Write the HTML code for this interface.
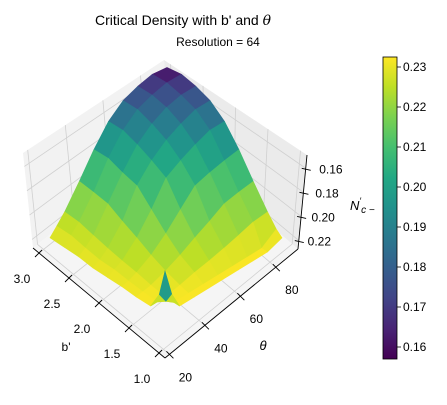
<!DOCTYPE html>
<html><head><meta charset="utf-8"><style>
body{margin:0;background:#fff;}
svg text{font-family:"Liberation Sans",sans-serif;fill:#000;}
</style></head><body>
<svg id="chart" width="447" height="400" viewBox="0 0 447 400">
<defs>
<linearGradient id="vir" x1="0" y1="1" x2="0" y2="0">
<stop offset="0" stop-color="#440154"/><stop offset="0.1" stop-color="#482475"/><stop offset="0.2" stop-color="#414487"/><stop offset="0.3" stop-color="#355f8d"/><stop offset="0.4" stop-color="#2a788e"/><stop offset="0.5" stop-color="#21918c"/><stop offset="0.6" stop-color="#22a884"/><stop offset="0.7" stop-color="#44bf70"/><stop offset="0.8" stop-color="#7ad151"/><stop offset="0.9" stop-color="#bddf26"/><stop offset="1" stop-color="#fde725"/>
</linearGradient>
</defs>
<text x="183" y="25" font-size="14" text-anchor="middle">Critical Density with b' and <tspan font-style="italic" font-family="DejaVu Serif">θ</tspan></text>
<text x="218" y="46" font-size="12" text-anchor="middle">Resolution = 64</text>
<g id="panes"></g>
<g id="surf"></g>
<g id="axes"></g>
<rect x="383" y="57" width="14" height="302" fill="url(#vir)" stroke="#000" stroke-width="0.8"/>
<g id="cbar"></g>
<text x="350" y="210" font-size="13" font-style="italic">N<tspan font-size="9" dy="-6">′</tspan><tspan font-size="10" dy="9">c −</tspan></text>
<text x="66" y="351" font-size="12" text-anchor="middle">b'</text>
<text x="263" y="350" font-size="13" font-style="italic" text-anchor="middle" font-family="DejaVu Serif">θ</text>
</svg>
<script>
const bVals=[1,1.1,1.25,1.5,1.75,2,2.25,2.5,2.75,3];
const thetaVals=[20,24,28.75,37.5,46.25,55,63.75,72.5,81.25,90];
// zGrid[j][i]: j indexes b, i indexes theta
const zGrid=[
[0.188,0.215,0.232,0.232,0.232,0.232,0.232,0.232,0.232,0.230],
[0.215,0.226,0.232,0.232,0.232,0.232,0.232,0.232,0.232,0.228],
[0.232,0.232,0.232,0.230,0.228,0.227,0.226,0.225,0.224,0.223],
[0.232,0.231,0.230,0.227,0.224,0.221,0.219,0.217,0.215,0.213],
[0.231,0.230,0.228,0.224,0.219,0.214,0.210,0.207,0.204,0.201],
[0.231,0.229,0.227,0.221,0.214,0.207,0.202,0.197,0.192,0.189],
[0.231,0.229,0.226,0.219,0.210,0.202,0.195,0.189,0.183,0.179],
[0.230,0.228,0.225,0.217,0.207,0.197,0.189,0.182,0.176,0.171],
[0.230,0.227,0.224,0.215,0.203,0.192,0.183,0.176,0.169,0.163],
[0.230,0.227,0.223,0.213,0.201,0.189,0.179,0.171,0.163,0.157]];
const bTicks=["3.0","2.5","2.0","1.5","1.0"];
const thetaTicks=["20","40","60","80"];
const zTicks=["0.16","0.18","0.20","0.22"];
const cbTicks=["0.16","0.17","0.18","0.19","0.20","0.21","0.22","0.23"];
const NS="http://www.w3.org/2000/svg";
const vmin=0.157,vmax=0.2325;
const stops=["#440154","#482475","#414487","#355f8d","#2a788e","#21918c","#22a884","#44bf70","#7ad151","#bddf26","#fde725"];
function hex(h){return [1,3,5].map(k=>parseInt(h.substr(k,2),16));}
function cmap(v){let t=Math.max(0,Math.min(1,(v-vmin)/(vmax-vmin)))*10;let k=Math.min(9,Math.floor(t));let f=t-k;let a=hex(stops[k]),b=hex(stops[k+1]);return "rgb("+a.map((x,i)=>Math.round(x+(b[i]-x)*f)).join(",")+")";}
function el(tag,attrs,parent){const e=document.createElementNS(NS,tag);for(const k in attrs)e.setAttribute(k,attrs[k]);parent.appendChild(e);return e;}
function zScale(d){if(d<=0.1)return 1000;if(d<=0.5)return 1000+(d-0.1)/0.4*1600;return 2600-(d-0.5)/0.5*1220;}
function uv(b,th){return [(th-20)/70,(b-1)/2];}
function proj(b,th,z){const [u,v]=uv(b,th);const d=(u+v)/2;return [165+u*117-v*115, 315-u*72-v*72-(0.232-z)*zScale(d)];}
// panes
const A=[23,153],B=[164,60],C=[170,140],D=[33,248],E=[307,155],F=[298,249],G=[165,358];
const panes=document.getElementById('panes');
function poly(pts,fill,name){const p=el('polygon',{points:pts.map(q=>q.join(',')).join(' '),fill:fill},panes);}
poly([A,B,C,D],"#f2f2f2","left-pane");poly([B,E,F,C],"#ebebeb","right-pane");poly([D,C,F,G],"#f5f5f5","floor-pane");
function lerp(p,q,t){return [p[0]+(q[0]-p[0])*t,p[1]+(q[1]-p[1])*t];}
function gl(p,q){const l=el('line',{x1:p[0],y1:p[1],x2:q[0],y2:q[1],stroke:"#d0d0d0","stroke-width":0.8},panes);}
const thF=thetaTicks.map(t=>(parseFloat(t)-17.5)/75);
const bF=bTicks.map(t=>(3.1-parseFloat(t))/2.2);
const zF=zTicks.map(t=>(parseFloat(t)-0.149)/0.078);
thF.forEach(f=>{gl(lerp(A,B,f),lerp(D,C,f));gl(lerp(D,C,f),lerp(G,F,f));});
bF.forEach(f=>{gl(lerp(B,E,f),lerp(C,F,f));gl(lerp(C,F,f),lerp(D,G,f));});
zF.forEach(f=>{gl(lerp(A,D,f),lerp(B,C,f));gl(lerp(B,C,f),lerp(E,F,f));});
// surface
const surf=document.getElementById('surf');const cells=[];
for(let j=0;j<bVals.length-1;j++)for(let i=0;i<thetaVals.length-1;i++){const [u,v]=uv((bVals[j]+bVals[j+1])/2,(thetaVals[i]+thetaVals[i+1])/2);cells.push([j,i,u+v]);}
cells.sort((a,b)=>b[2]-a[2]);
cells.forEach(([j,i])=>{const pts=[[j,i],[j,i+1],[j+1,i+1],[j+1,i]].map(([jj,ii])=>proj(bVals[jj],thetaVals[ii],zGrid[jj][ii]));
let m=(zGrid[j][i]+zGrid[j][i+1]+zGrid[j+1][i]+zGrid[j+1][i+1])/4;
if(j===0&&i===0)m=Math.min(zGrid[j][i],zGrid[j][i+1],zGrid[j+1][i],zGrid[j+1][i+1])+0.01;
const c=cmap(m);
const p=el('polygon',{points:pts.map(q=>q.map(x=>x.toFixed(1)).join(',')).join(' '),fill:c,stroke:c,"stroke-width":0.6},surf);
});
// axes lines and ticks
const ax=document.getElementById('axes');
function line(p,q,name){const l=el('line',{x1:p[0],y1:p[1],x2:q[0],y2:q[1],stroke:"#000","stroke-width":0.9},ax);}
function txt(x,y,s,name){const t=el('text',{x:x,y:y,"font-size":12,"text-anchor":"middle"},ax);t.textContent=s;}
line(D,G,'x-axis-line');line(G,F,'y-axis-line');line(E,F,'z-axis-line');
bF.forEach((f,k)=>{const p=lerp(D,G,f);line([p[0]+3,p[1]-3],[p[0]-4,p[1]+4],'x-tick');txt(p[0]-17,p[1]+30,bTicks[k],'x-tick-label');});
thF.forEach((f,k)=>{const p=lerp(G,F,f);line([p[0]-3,p[1]-3],[p[0]+4,p[1]+4],'y-tick');txt(p[0]+16,p[1]+27,thetaTicks[k],'y-tick-label');});
zF.forEach((f,k)=>{const p=lerp(E,F,f);line([p[0]-4,p[1]],[p[0]+5,p[1]+2],'z-tick');txt(p[0]+26-f*6,p[1]+5,zTicks[k],'z-tick-label');});
// colorbar ticks
const cb=document.getElementById('cbar');
cbTicks.forEach(s=>{const y=359-(parseFloat(s)-vmin)/(vmax-vmin)*302;
const l=el('line',{x1:397,y1:y,x2:401,y2:y,stroke:"#000","stroke-width":0.8},cb);
const t=el('text',{x:403,y:y+4,"font-size":12},cb);t.textContent=s;});
</script>
</body></html>
